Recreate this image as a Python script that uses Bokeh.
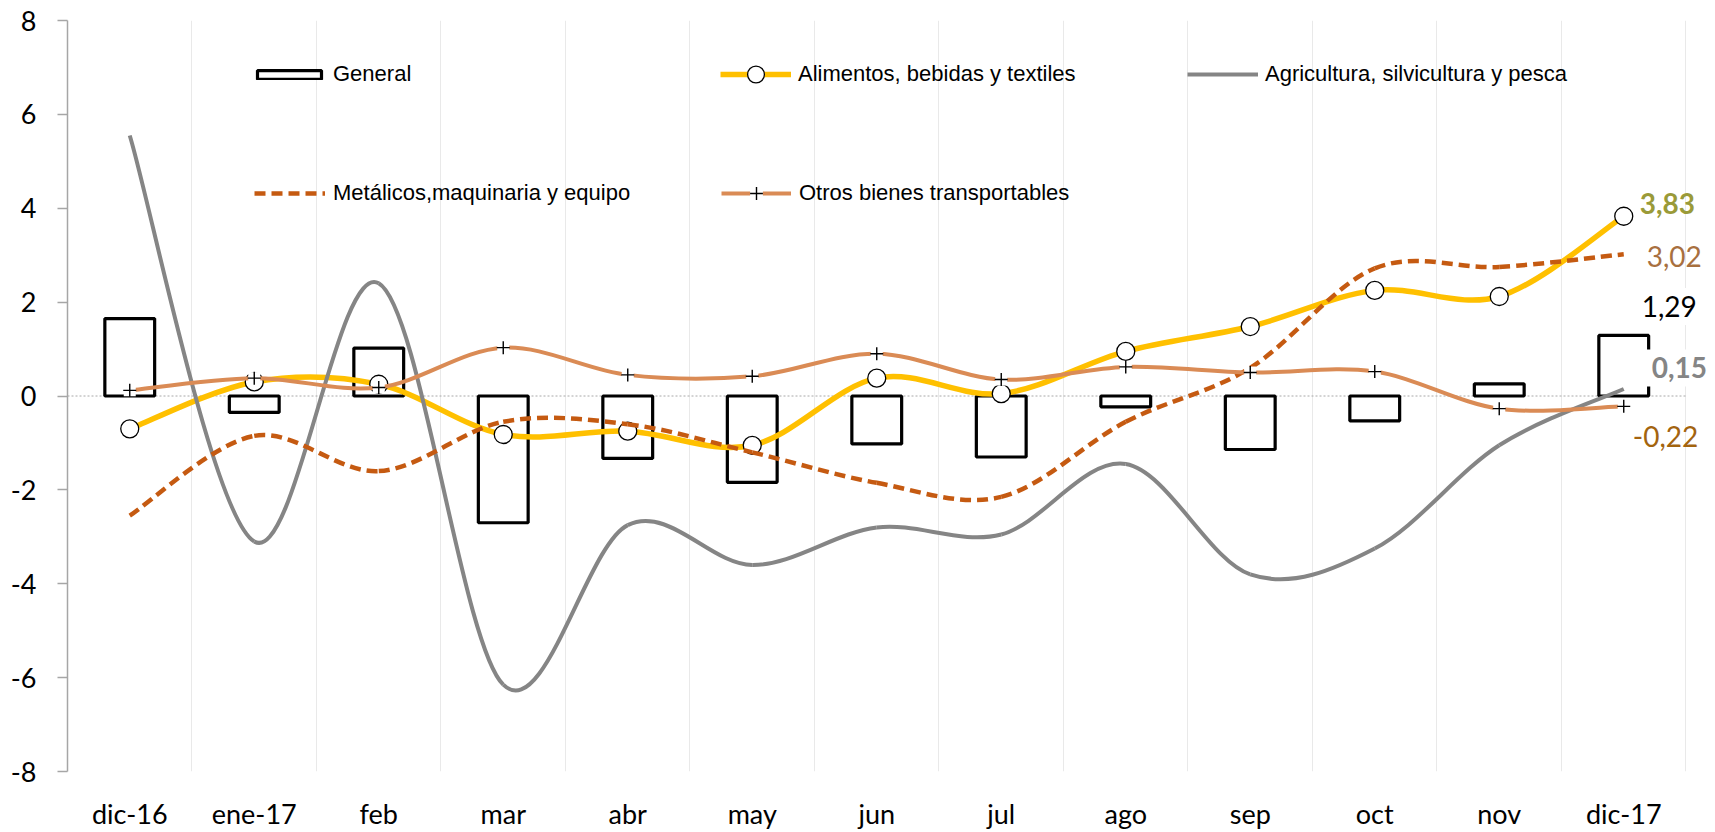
from bokeh.plotting import figure
from bokeh.models import (FixedTicker, Label, Legend, LegendItem, Range1d,
                          ColumnDataSource)
from bokeh.embed import file_html
from bokeh.resources import INLINE

# ---------------- data ----------------
categories = ["dic-16", "ene-17", "feb", "mar", "abr", "may", "jun", "jul",
              "ago", "sep", "oct", "nov", "dic-17"]
general = [1.65, -0.35, 1.02, -2.70, -1.33, -1.84, -1.02, -1.30, -0.23, -1.14, -0.53, 0.26, 1.29]
alimentos = [-0.70, 0.30, 0.25, -0.82, -0.75, -1.05, 0.38, 0.05, 0.95, 1.48, 2.25, 2.12, 3.83]
agricultura = [5.55, -3.10, 2.40, -6.15, -2.75, -3.60, -2.80, -2.95, -1.45, -3.80, -3.25, -1.05, 0.15]
metalicos = [-2.55, -0.85, -1.60, -0.55, -0.60, -1.20, -1.85, -2.15, -0.55, 0.60, 2.72, 2.75, 3.02]
otros = [0.12, 0.38, 0.18, 1.03, 0.45, 0.42, 0.90, 0.35, 0.62, 0.50, 0.52, -0.27, -0.22]
y_ticks = [-8, -6, -4, -2, 0, 2, 4, 6, 8]

series_names = ["General", "Alimentos, bebidas y textiles", "Agricultura, silvicultura y pesca",
                "Metálicos,maquinaria y equipo", "Otros bienes transportables"]

xs = list(range(len(categories)))
boundaries = [i - 0.5 for i in range(len(categories) + 1)]


def smooth_source(ys):
    """Cubic Bezier segments (Excel-like smoothing) between consecutive data points."""
    n = len(ys)
    d = dict(x0=[], y0=[], x1=[], y1=[], cx0=[], cy0=[], cx1=[], cy1=[])
    for i in range(n - 1):
        pm = max(i - 1, 0)
        pp = min(i + 2, n - 1)
        d["x0"].append(xs[i]); d["y0"].append(ys[i])
        d["x1"].append(xs[i + 1]); d["y1"].append(ys[i + 1])
        d["cx0"].append(xs[i] + (xs[i + 1] - xs[pm]) / 6)
        d["cy0"].append(ys[i] + (ys[i + 1] - ys[pm]) / 6)
        d["cx1"].append(xs[i + 1] - (xs[pp] - xs[i]) / 6)
        d["cy1"].append(ys[i + 1] - (ys[pp] - ys[i]) / 6)
    return ColumnDataSource(d)


def fmt(v):
    return f"{v:.2f}".replace(".", ",")


# ---------------- figure ----------------
# extra room right of the last category so that the end labels are not clipped
x_end = boundaries[-1] + 0.237
p = figure(width=1715, height=832,
           x_range=Range1d(boundaries[0], x_end),
           y_range=Range1d(y_ticks[0], y_ticks[-1]),
           output_backend="svg", toolbar_location=None,
           min_border_left=67, min_border_right=0,
           min_border_top=20, min_border_bottom=58)
p.outline_line_color = None
p.background_fill_color = "white"
p.border_fill_color = "white"

# x axis: category names under each category, no line / ticks
p.xaxis.ticker = FixedTicker(ticks=xs)
p.xaxis.major_label_overrides = {i: c for i, c in zip(xs, categories)}
p.xaxis.axis_line_color = None
p.xaxis.major_tick_line_color = None
p.xaxis.minor_tick_line_color = None
p.xaxis.major_tick_out = 0
p.xaxis.major_tick_in = 0
p.xaxis.major_label_standoff = 25
p.xaxis.major_label_text_font = "Lato"
p.xaxis.major_label_text_font_size = "27px"
p.xaxis.major_label_text_color = "black"

# vertical grid lines between categories
p.xgrid.ticker = FixedTicker(ticks=boundaries)
p.xgrid.grid_line_color = "#E9E9E9"
p.xgrid.grid_line_width = 1
p.ygrid.visible = False

# y axis
p.yaxis.ticker = FixedTicker(ticks=y_ticks)
p.yaxis.major_label_overrides = {t: str(t) for t in y_ticks}
p.yaxis.minor_tick_line_color = None
p.yaxis.major_tick_out = 10
p.yaxis.major_tick_in = 0
p.yaxis.axis_line_color = "#A6A6A6"
p.yaxis.axis_line_width = 1.5
p.yaxis.major_tick_line_color = "#A6A6A6"
p.yaxis.major_tick_line_width = 1.5
p.yaxis.major_label_text_font = "Lato"
p.yaxis.major_label_text_font_size = "27px"
p.yaxis.major_label_text_color = "black"
p.yaxis.major_label_standoff = 21

# zero line across the category area
p.segment(x0=[boundaries[0]], x1=[boundaries[-1]], y0=[0], y1=[0],
          line_color="#A8A8A8", line_dash="2 2", line_width=1)

# bars
bars = p.vbar(x=xs, top=general, bottom=0, width=0.4,
              fill_color="white", line_color="black", line_width=3.2)

# smooth lines
bz = dict(x0="x0", y0="y0", x1="x1", y1="y1", cx0="cx0", cy0="cy0", cx1="cx1", cy1="cy1")
ali_line = p.bezier(source=smooth_source(alimentos), line_color="#FFC000", line_width=5.5, **bz)
ali_mark = p.scatter(xs, alimentos, marker="circle", size=18,
                     fill_color="white", line_color="black", line_width=1.3)
agr_line = p.bezier(source=smooth_source(agricultura), line_color="#858585", line_width=4, **bz)
met_line = p.bezier(source=smooth_source(metalicos), line_color="#C55A11", line_width=4.5,
                    line_dash="11 6", **bz)
otr_line = p.bezier(source=smooth_source(otros), line_color="#DA8B55", line_width=4, **bz)
otr_bg = p.scatter(xs, otros, marker="square", size=12, fill_color="white", line_color=None)
otr_mark = p.scatter(xs, otros, marker="cross", size=13, line_color="black", line_width=1.4)

# ---------------- legend (one block per entry, placed like the original) ----------------
H = 44


def add_legend(label, renderers, x, center_from_bottom, gw, gh, standoff):
    lg = Legend(items=[LegendItem(label=label, renderers=renderers)],
                location=(x, int(round(center_from_bottom - H / 2))),
                glyph_width=gw, glyph_height=gh, label_height=H, label_standoff=standoff,
                padding=0, margin=0, spacing=0, border_line_color=None,
                background_fill_alpha=0,
                label_text_font="Liberation Sans", label_text_font_size="22px",
                label_text_color="black")
    p.add_layout(lg)


row1 = 697
row2 = 578
add_legend(series_names[0], [bars], 182, row1, 80, 11, 4)
add_legend(series_names[1], [ali_line, ali_mark], 653, row1, 71, 42, 7)
add_legend(series_names[2], [agr_line], 1120, row1, 71, 20, 7)
add_legend(series_names[3], [met_line], 187, row2, 71, 20, 8)
add_legend(series_names[4], [otr_line, otr_bg, otr_mark], 654, row2, 70, 32, 8)

# ---------------- end-of-series value labels ----------------
last = len(categories) - 1
end_labels = [
    (alimentos[-1], "#9A9A38", "bold", 16, 13, False),
    (metalicos[-1], "#A8703F", "normal", 23, -2, False),
    (general[-1], "black", "normal", 10, 29, True),
    (agricultura[-1], "#858585", "bold", 20, 21, True),
    (otros[-1], "#A3640F", "normal", 9, -30, False),
]
for v, col, style, dx, dy, bg in end_labels:
    lab = Label(x=last, y=v, x_offset=dx, y_offset=dy, text=fmt(v),
                text_align="left", text_baseline="middle", text_font="Lato",
                text_font_size="28px", text_color=col, text_font_style=style)
    if bg:
        lab.background_fill_color = "white"
        lab.padding = 8
    p.add_layout(lab)

open("out.html", "w").write(file_html(p, INLINE))
